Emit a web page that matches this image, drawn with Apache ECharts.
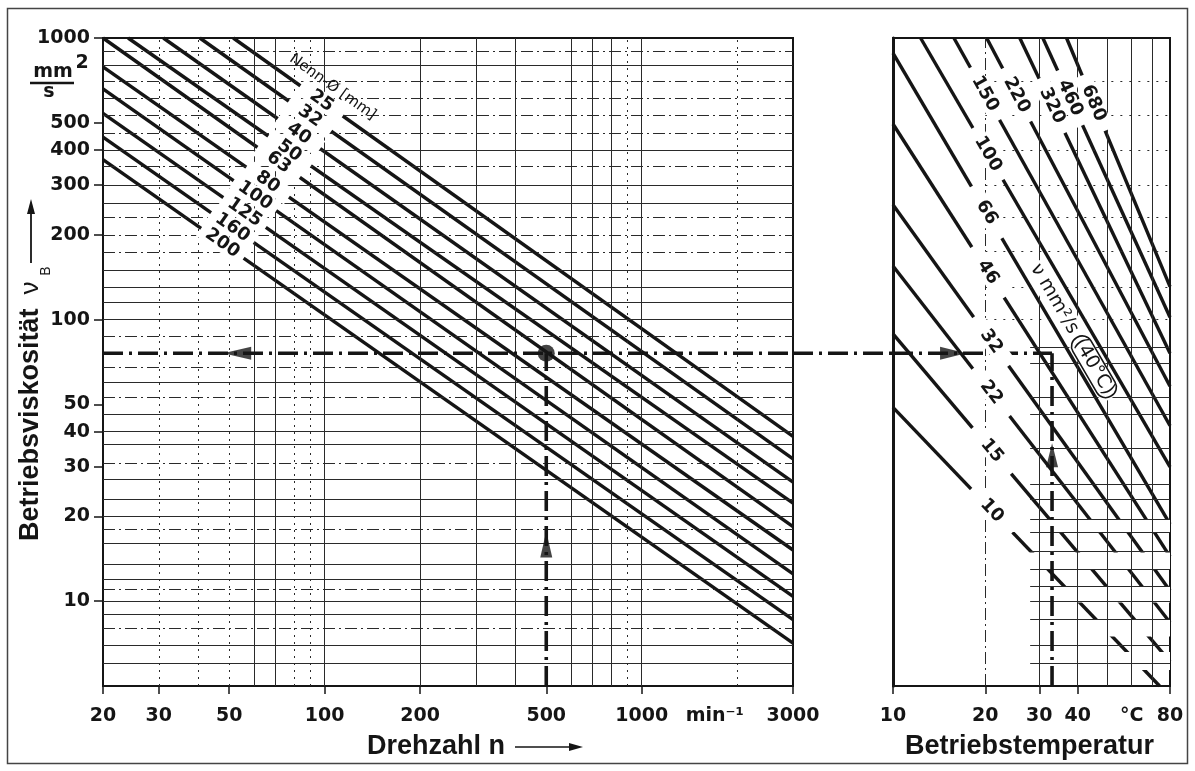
<!DOCTYPE html>
<html>
<head>
<meta charset="utf-8">
<title>Betriebsviskosität</title>
<script src="https://cdn.jsdelivr.net/npm/echarts@6/dist/echarts.min.js"></script>
<style>
html, body { margin: 0; padding: 0; background: #fff; }
#chart { width: 1195px; height: 771px; }
</style>
</head>
<body>
<div id="chart"></div>
<script>
// linkes Diagramm: Nenn-Ø, je Linie Anfangs- und Endpunkt [n, nu]
var diaNames = ['25', '32', '40', '50', '63', '80', '100', '125', '160', '200'];
var diaStart = [[51.5, 1000], [40.4, 1000], [31, 1000], [24, 1000], [20, 1000], [20, 790], [20, 660], [20, 540], [20, 445], [20, 370]];
var diaEnd = [[3000, 38.5], [3000, 32], [3000, 26.5], [3000, 22.3], [3000, 18.4], [3000, 15.2], [3000, 12.5], [3000, 10.4], [3000, 8.6], [3000, 7.1]];
var diaLabelN = [97.8, 89.9, 83, 77.5, 71.6, 66.1, 60.3, 55.9, 51.2, 47.6];

// rechtes Diagramm: Viskosität bei 40 °C, je Linie Anfangs- und Endpunkt [T, nu]
var vgNames = ['10', '15', '22', '32', '46', '66', '100', '150', '220', '320', '460', '680'];
var vgStart = [[10, 48.8], [10, 89], [10, 155], [10, 256], [10, 495], [10, 883], [12.3, 1000], [15.8, 1000], [20.2, 1000], [25.9, 1000], [30.8, 1000], [36.8, 1000]];
var vgEnd = [[74, 5], [80, 6.1], [80, 8.4], [80, 10.9], [80, 14.4], [80, 18.8], [80, 30], [80, 42], [80, 58], [80, 76], [80, 102], [80, 131]];
var vgLabelT = [21, 21, 20.9, 20.9, 20.4, 20.2, 20.4, 19.95, 25.3, 33, 37.8, 45.1];

// Ablesebeispiel
var readN = 500;
var readNu = 76;
var readT = 33;
var arrowLeftAt = [53, 76];
var arrowUpN = [500, 15.9];
var arrowRightAt = [15.7, 76];
var arrowUpT = [33, 33];

// Achsenbeschriftung
var nTicks = [20, 30, 50, 100, 200, 500, 1000, 3000];
var nUnitAt = 1700;
var nuTicks = [10, 20, 30, 40, 50, 100, 200, 300, 400, 500, 1000];
var tTicks = [10, 20, 30, 40, 80];
var tUnitAt = 60;

// Raster
var gridNuSolid = [6, 7, 9, 10, 12, 13.5, 16, 20, 23, 27, 36, 40, 46, 60, 100, 115, 130, 150, 260, 300, 400, 800];
var gridNuDash = [8, 11, 18, 31, 53, 68, 87, 174, 200, 230, 350, 460, 530, 610, 700, 900];
var gridNSolid = [60, 70, 100, 200, 300, 400, 600, 700, 800, 1000];
var gridNDot = [30, 40, 50, 80, 90, 900, 2000];
var gridTSolid = [30, 40, 50, 60, 70];
var gridTDash = [20];
var gridNuRightSolid = [6, 7, 8.6, 10, 11.3, 13, 15, 17.6, 19.5, 23, 26, 35, 46, 53, 70, 80];
var gridNuRightDot = [100, 130, 175, 230, 300, 400, 530, 700];
var fadeBands = [[19.5, 17.6], [14.9, 13.0], [11.3, 9.9], [8.6, 7.5], [6.6, 5.7]];
var fadeFromT = 22.3;

var INK = '#151515';
var FONT = 'DejaVu Sans';
var dashDot = [20, 6, 3, 6];

var chart = echarts.init(document.getElementById('chart'));

function boldLine(p0, p1, gi) {
    return {
        type: 'line', xAxisIndex: gi, yAxisIndex: gi, data: [p0, p1],
        symbol: 'none', showSymbol: false, silent: true, z: 2,
        lineStyle: { color: INK, width: 3.4 }
    };
}

function thin(type) {
    return { color: '#2a2a2a', width: 1, type: type };
}

function hLines(vals, style) {
    return vals.map(function (v) { return { yAxis: v, lineStyle: style }; });
}
function vLines(vals, style) {
    return vals.map(function (v) { return { xAxis: v, lineStyle: style }; });
}
function hSegs(vals, t0, t1, style) {
    return vals.map(function (v) { return [{ coord: [t0, v], lineStyle: style }, { coord: [t1, v] }]; });
}

var series = [];

diaNames.forEach(function (d, i) {
    series.push(boldLine(diaStart[i], diaEnd[i], 0));
});
vgNames.forEach(function (d, i) {
    series.push(boldLine(vgStart[i], vgEnd[i], 1));
});

// Raster links
series.push({
    type: 'line', xAxisIndex: 0, yAxisIndex: 0, data: [], z: 4, silent: true,
    markLine: {
        silent: true, symbol: ['none', 'none'], label: { show: false }, z: 4, animation: false,
        data: [].concat(
            hLines(gridNuSolid, thin('solid')),
            hLines(gridNuDash, thin([12, 4, 2, 4])),
            vLines(gridNSolid, thin('solid')),
            vLines(gridNDot, thin([2, 5]))
        )
    }
});

// Raster rechts
series.push({
    type: 'line', xAxisIndex: 1, yAxisIndex: 1, data: [], z: 4, silent: true,
    markLine: {
        silent: true, symbol: ['none', 'none'], label: { show: false }, z: 4, animation: false,
        data: [].concat(
            vLines(gridTSolid, thin('solid')),
            vLines(gridTDash, thin([12, 4, 2, 4])),
            hSegs(gridNuRightSolid, 28, 80, thin('solid')),
            hSegs(gridNuRightDot, 20, 80, thin([2, 7]))
        )
    }
});

// unterbrochene Linien unten rechts
series.push({
    type: 'line', xAxisIndex: 1, yAxisIndex: 1, data: [], z: 3, silent: true,
    markArea: {
        silent: true, z: 3, label: { show: false }, itemStyle: { color: '#fff', opacity: 1 },
        data: fadeBands.map(function (b) { return [{ coord: [fadeFromT, b[0]] }, { coord: [80, b[1]] }]; })
    }
});

// Ablesebeispiel
var readStyle = { color: INK, width: 3.6, type: dashDot };
series.push({ type: 'line', xAxisIndex: 0, yAxisIndex: 0, data: [[20, readNu], [3000, readNu]], symbol: 'none', silent: true, z: 6, lineStyle: readStyle });
series.push({ type: 'line', xAxisIndex: 0, yAxisIndex: 0, data: [[readN, 5], [readN, readNu]], symbol: 'none', silent: true, z: 6, lineStyle: readStyle });
series.push({ type: 'line', xAxisIndex: 1, yAxisIndex: 1, data: [[10, readNu], [readT, readNu]], symbol: 'none', silent: true, z: 6, lineStyle: readStyle });
series.push({ type: 'line', xAxisIndex: 1, yAxisIndex: 1, data: [[readT, 5], [readT, readNu]], symbol: 'none', silent: true, z: 6, lineStyle: readStyle });

series.push({ type: 'scatter', xAxisIndex: 0, yAxisIndex: 0, data: [arrowLeftAt], symbol: 'triangle', symbolSize: [13, 28], symbolRotate: 90, itemStyle: { color: INK }, silent: true, z: 7 });
series.push({ type: 'scatter', xAxisIndex: 0, yAxisIndex: 0, data: [arrowUpN], symbol: 'triangle', symbolSize: [12, 26], itemStyle: { color: INK }, silent: true, z: 7 });
series.push({ type: 'scatter', xAxisIndex: 0, yAxisIndex: 0, data: [[readN, readNu]], symbol: 'circle', symbolSize: 17, itemStyle: { color: INK }, silent: true, z: 7 });
series.push({ type: 'scatter', xAxisIndex: 1, yAxisIndex: 1, data: [arrowRightAt], symbol: 'triangle', symbolSize: [13, 26], symbolRotate: -90, itemStyle: { color: INK }, silent: true, z: 7 });
series.push({ type: 'scatter', xAxisIndex: 1, yAxisIndex: 1, data: [arrowUpT], symbol: 'triangle', symbolSize: [12, 24], itemStyle: { color: INK }, silent: true, z: 7 });

function fmtN(v) {
    var r = Math.round(v);
    return r === nUnitAt ? 'min\u207B\u00B9' : String(r);
}
function fmtT(v) {
    var r = Math.round(v);
    return r === tUnitAt ? '\u00B0C' : String(r);
}
function fmtNu(v) {
    return String(Math.round(v));
}

var labelStyle = { fontSize: 19, fontWeight: 'bold', color: INK, fontFamily: FONT, hideOverlap: false };
var lineInk = { color: INK, width: 2 };

var option = {
    animation: false,
    backgroundColor: '#fff',
    textStyle: { fontFamily: FONT, color: INK },
    grid: [
        { left: 103, top: 38, width: 690, height: 648, show: true, borderColor: INK, borderWidth: 2, backgroundColor: 'transparent', containLabel: false, outerBoundsMode: 'none' },
        { left: 893, top: 38, width: 277, height: 648, show: true, borderColor: INK, borderWidth: 2, backgroundColor: 'transparent', containLabel: false, outerBoundsMode: 'none' }
    ],
    xAxis: [
        {
            gridIndex: 0, type: 'log', logBase: 10, min: 20, max: 3000,
            axisLine: { show: true, lineStyle: lineInk },
            axisTick: { show: true, length: 8, customValues: nTicks, lineStyle: { color: INK, width: 1.5 } },
            axisLabel: Object.assign({ customValues: nTicks.concat([nUnitAt]), formatter: fmtN, margin: 21 }, labelStyle),
            splitLine: { show: false }, minorTick: { show: false }, minorSplitLine: { show: false }
        },
        {
            gridIndex: 1, type: 'log', logBase: 10, min: 10, max: 80,
            axisLine: { show: true, lineStyle: lineInk },
            axisTick: { show: true, length: 8, customValues: tTicks, lineStyle: { color: INK, width: 1.5 } },
            axisLabel: Object.assign({ customValues: tTicks.concat([tUnitAt]), formatter: fmtT, margin: 21 }, labelStyle),
            splitLine: { show: false }, minorTick: { show: false }, minorSplitLine: { show: false }
        }
    ],
    yAxis: [
        {
            gridIndex: 0, type: 'log', logBase: 10, min: 5, max: 1000,
            axisLine: { show: true, lineStyle: lineInk },
            axisTick: { show: true, length: 9, customValues: nuTicks, lineStyle: { color: INK, width: 1.5 } },
            axisLabel: Object.assign({ customValues: nuTicks, formatter: fmtNu, margin: 13 }, labelStyle),
            splitLine: { show: false }, minorTick: { show: false }, minorSplitLine: { show: false }
        },
        {
            gridIndex: 1, type: 'log', logBase: 10, min: 5, max: 1000,
            axisLine: { show: true, lineStyle: { color: INK, width: 3 } },
            axisTick: { show: false },
            axisLabel: { show: false },
            splitLine: { show: false }, minorTick: { show: false }, minorSplitLine: { show: false }
        }
    ],
    series: series
};

chart.setOption(option);

// Beschriftungen der Linien, entlang der Linien ausgerichtet
function px(gi, v) {
    return chart.convertToPixel({ gridIndex: gi }, v);
}

function lineLabels(names, starts, ends, labelX, gi, fs, boxW) {
    var out = [];
    names.forEach(function (name, i) {
        var a = px(gi, starts[i]);
        var b = px(gi, ends[i]);
        var x = chart.convertToPixel({ xAxisIndex: gi }, labelX[i]);
        var t = (x - a[0]) / (b[0] - a[0]);
        var y = a[1] + t * (b[1] - a[1]);
        var ang = Math.atan2(b[1] - a[1], b[0] - a[0]);
        var tw = name.length * 0.696 * fs;
        var pad = Math.max(3, (boxW - tw) / 2);
        out.push({
            type: 'text', x: x, y: y, rotation: -ang, z: 100, silent: true,
            style: {
                text: name, font: 'bold ' + fs + 'px "DejaVu Sans"', fill: INK,
                align: 'center', verticalAlign: 'middle',
                backgroundColor: '#fff', padding: [0, pad]
            }
        });
    });
    return out;
}

function angleOf(gi, p0, p1) {
    var a = px(gi, p0);
    var b = px(gi, p1);
    return Math.atan2(b[1] - a[1], b[0] - a[0]);
}

var g = [];
g.push({
    type: 'rect', z: 0, silent: true,
    shape: { x: 7.5, y: 8.5, width: 1180, height: 755 },
    style: { fill: 'none', stroke: '#444', lineWidth: 1.5 }
});

g = g.concat(lineLabels(diaNames, diaStart, diaEnd, diaLabelN, 0, 18, 52));
g = g.concat(lineLabels(vgNames, vgStart, vgEnd, vgLabelT, 1, 18, 60));

var nennPos = px(0, [106, 670]);
g.push({
    type: 'text', x: nennPos[0], y: nennPos[1], rotation: -angleOf(0, diaStart[0], diaEnd[0]), z: 100, silent: true,
    style: { text: 'Nenn-\u00D8 [mm]', font: '15px "DejaVu Sans"', fill: INK, align: 'center', verticalAlign: 'middle' }
});

var vgTitlePos = px(1, [38.6, 91.4]);
g.push({
    type: 'text', x: vgTitlePos[0], y: vgTitlePos[1], rotation: -angleOf(1, vgStart[6], vgEnd[6]), z: 100, silent: true,
    style: {
        text: '{a|\u03BD mm\u00B2/s }{b|(40\u00B0C)}',
        align: 'center', verticalAlign: 'middle', backgroundColor: '#fff', padding: [1, 2],
        rich: {
            a: { font: '19px "DejaVu Sans"', fill: INK },
            b: { font: '19px "DejaVu Sans"', fill: INK, borderColor: INK, borderWidth: 1.6, borderRadius: 10, padding: [1, 3] }
        }
    }
});

// Ablese-Linie über die Lücke zwischen den Diagrammen
var gapA = px(0, [3000, readNu]);
var gapB = px(1, [10, readNu]);
g.push({
    type: 'line', z: 6, silent: true,
    shape: { x1: gapA[0], y1: gapA[1], x2: gapB[0], y2: gapB[1] },
    style: { stroke: INK, lineWidth: 3.6, lineDash: dashDot }
});

// Achsentitel
g.push({ type: 'text', x: 367, y: 747, silent: true, style: { text: 'Drehzahl n', font: 'bold 27px "Liberation Sans"', fill: INK, align: 'left', verticalAlign: 'middle' } });
g.push({ type: 'line', silent: true, shape: { x1: 515, y1: 747, x2: 572, y2: 747 }, style: { stroke: INK, lineWidth: 1.5 } });
g.push({ type: 'polygon', silent: true, shape: { points: [[583, 747], [569, 743], [569, 751]] }, style: { fill: INK } });
g.push({ type: 'text', x: 905, y: 747, silent: true, style: { text: 'Betriebstemperatur', font: 'bold 27px "Liberation Sans"', fill: INK, align: 'left', verticalAlign: 'middle' } });

g.push({ type: 'text', x: 31, y: 541, rotation: Math.PI / 2, silent: true, style: { text: 'Betriebsviskosit\u00E4t', font: 'bold 27px "Liberation Sans"', fill: INK, align: 'left', verticalAlign: 'middle' } });
g.push({ type: 'text', x: 31, y: 288, rotation: Math.PI / 2, silent: true, style: { text: '\u03BD', font: '26px "Liberation Sans"', fill: INK, align: 'center', verticalAlign: 'middle' } });
g.push({ type: 'text', x: 46, y: 271, rotation: Math.PI / 2, silent: true, style: { text: 'B', font: '14px "Liberation Sans"', fill: INK, align: 'center', verticalAlign: 'middle' } });
g.push({ type: 'line', silent: true, shape: { x1: 31, y1: 263, x2: 31, y2: 212 }, style: { stroke: INK, lineWidth: 1.8 } });
g.push({ type: 'polygon', silent: true, shape: { points: [[31, 199], [27, 214], [35, 214]] }, style: { fill: INK } });

// Einheit mm²/s
g.push({ type: 'text', x: 53, y: 72, silent: true, style: { text: 'mm', font: 'bold 19px "DejaVu Sans"', fill: INK, align: 'center', verticalAlign: 'middle' } });
g.push({ type: 'text', x: 82, y: 63, silent: true, style: { text: '2', font: 'bold 19px "DejaVu Sans"', fill: INK, align: 'center', verticalAlign: 'middle' } });
g.push({ type: 'line', silent: true, shape: { x1: 30, y1: 83, x2: 74, y2: 83 }, style: { stroke: INK, lineWidth: 2.5 } });
g.push({ type: 'text', x: 49, y: 92, silent: true, style: { text: 's', font: 'bold 19px "DejaVu Sans"', fill: INK, align: 'center', verticalAlign: 'middle' } });

chart.setOption({ graphic: g });
</script>
</body>
</html>
